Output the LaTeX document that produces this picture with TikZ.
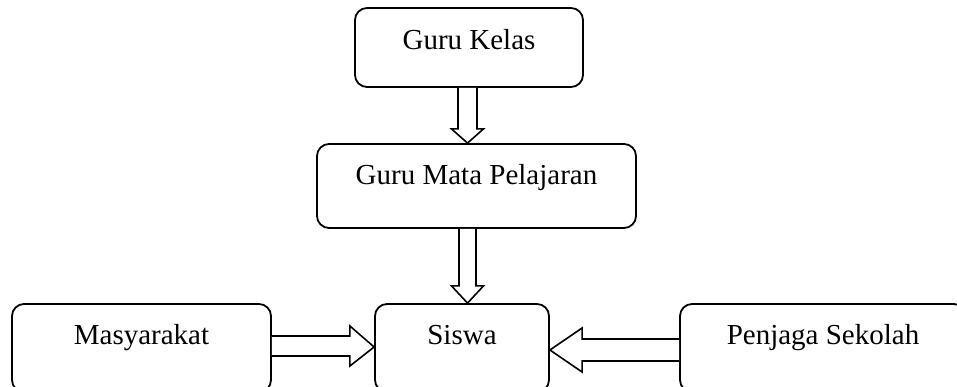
\documentclass[tikz,border=0pt]{standalone}
\usepackage{fontspec}
\setmainfont{Liberation Serif}
\usetikzlibrary{calc}
\tikzset{
  box/.style={draw=black, line width=1.8pt, rounded corners=12pt, fill=white,
    inner sep=0pt, text height=20pt, font=\fontsize{29}{34}\selectfont},
  blk/.style={draw=black, line width=1.6pt, fill=white, line join=miter}
}
\begin{document}
\begin{tikzpicture}[x=1pt,y=-1pt]
\useasboundingbox (0,0) rectangle (957,387);
\clip (0,0) rectangle (957,387);
\fill[white] (0,0) rectangle (957,387);
\node[box, minimum width=228pt, minimum height=79pt, text depth=15pt] (gk) at (469,47.5) {Guru Kelas};
\node[box, minimum width=319pt, minimum height=84pt, text depth=22pt] (gmp) at (476.5,186) {Guru Mata Pelajaran};
\node[box, minimum width=174pt, minimum height=88pt, text depth=28pt] (sw) at (462,348) {Siswa};
\node[box, minimum width=259pt, minimum height=88pt, text depth=28pt] (ms) at (141.5,348) {Masyarakat};
\node[box, minimum width=286pt, minimum height=88pt, text depth=28pt] (pj) at (823,348) {Penjaga Sekolah};
% Guru Kelas -> Guru Mata Pelajaran
\draw[blk] ($(gk.south)+(-11,0)$) -- ($(gk.south)+(-11,41)$) -- ($(gk.south)+(-17.5,41)$)
  -- ($(gmp.north)+(-9,0)$) -- ($(gk.south)+(14.5,41)$) -- ($(gk.south)+(8,41)$) -- ($(gk.south)+(8,0)$);
% Guru Mata Pelajaran -> Siswa
\draw[blk] ($(gmp.south)+(-17.5,0)$) -- ($(gmp.south)+(-17.5,57)$) -- ($(gmp.south)+(-25,57)$)
  -- ($(sw.north)+(5.5,0)$) -- ($(gmp.south)+(7,57)$) -- ($(gmp.south)+(-0.5,57)$) -- ($(gmp.south)+(-0.5,0)$);
% Masyarakat -> Siswa
\draw[blk] ($(ms.east)+(0,-12)$) -- ($(ms.east)+(78,-12)$) -- ($(ms.east)+(78,-22)$)
  -- ($(sw.west)+(0,-1)$) -- ($(ms.east)+(78,18)$) -- ($(ms.east)+(78,8)$) -- ($(ms.east)+(0,8)$);
% Penjaga Sekolah -> Siswa
\draw[blk] ($(pj.west)+(0,-9)$) -- ($(pj.west)+(-97,-9)$) -- ($(pj.west)+(-97,-20)$)
  -- ($(sw.east)+(0,2)$) -- ($(pj.west)+(-97,24)$) -- ($(pj.west)+(-97,13)$) -- ($(pj.west)+(0,13)$);
\end{tikzpicture}
\end{document}
